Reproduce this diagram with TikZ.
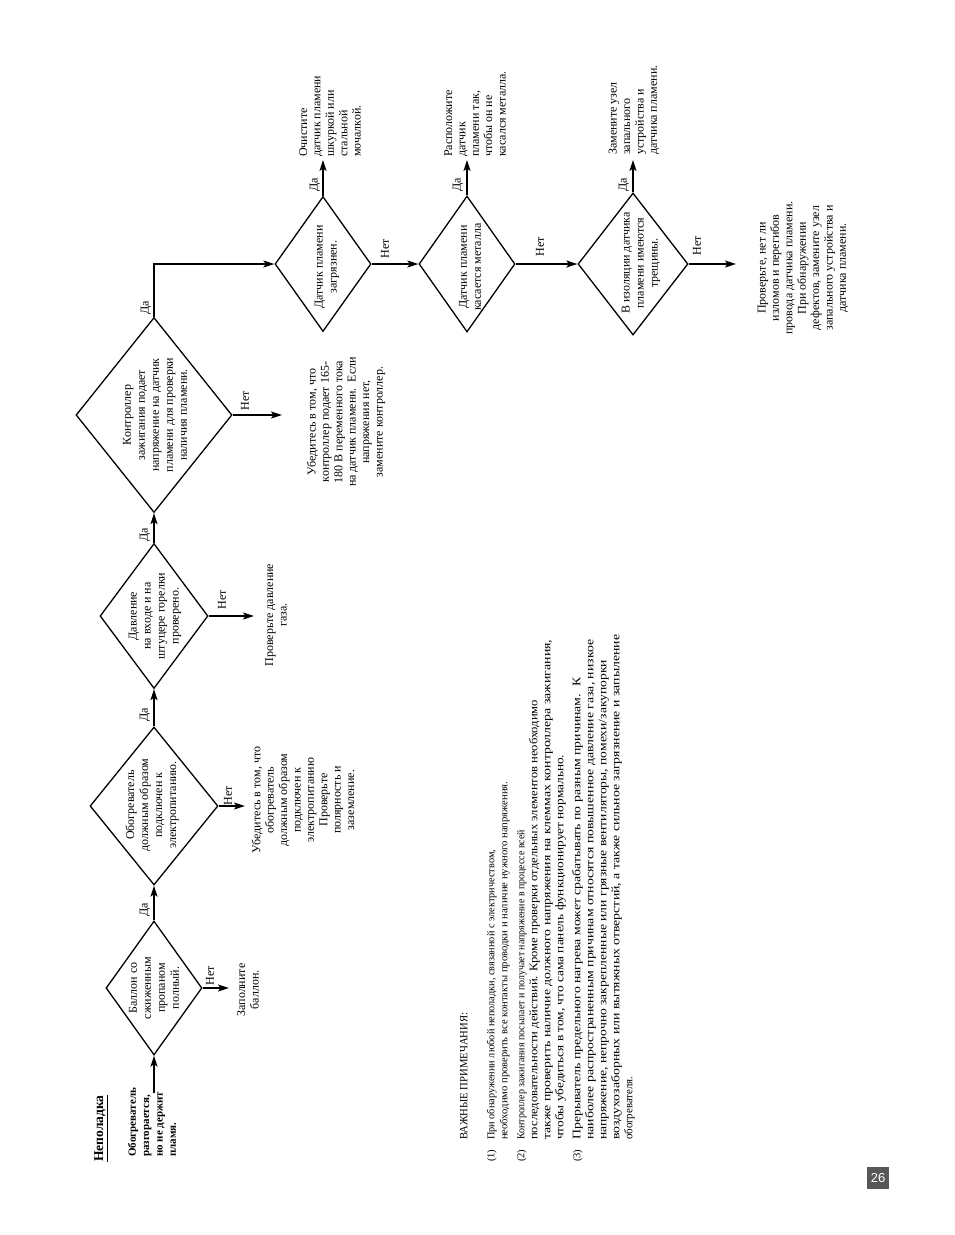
\documentclass[tikz,border=0pt]{standalone}
\usepackage{fontspec}
\usepackage{graphicx}
\setmainfont{Liberation Serif}
\newfontfamily\pagenumfont{Liberation Sans}
\usetikzlibrary{shapes.geometric,arrows.meta}
\definecolor{pggray}{RGB}{88,88,88}
\newcommand{\notesline}[2]{\resizebox{#1pt}{\height}{#2}}
\newcommand{\bignotes}{\fontsize{11.5}{13}\selectfont}
\begin{document}
\begin{tikzpicture}[x=1pt,y=-1pt,
  dia/.style 2 args={diamond, draw, line width=1.3pt, inner sep=0pt, minimum width=#1, minimum height=#2},
  dtxt/.style={rotate=90, align=center, inner sep=0pt, font=\fontsize{12}{14}\selectfont},
  otxt/.style={rotate=90, align=center, inner sep=0pt, font=\fontsize{12}{13.4}\selectfont},
  ltxt/.style={rotate=90, align=left, anchor=west, inner sep=0pt, font=\fontsize{12}{13.4}\selectfont},
  lbl/.style={rotate=90, inner sep=0pt, font=\fontsize{12}{12}\selectfont},
  arr/.style={line width=1.5pt, -{Stealth[length=11pt,width=7pt,inset=2.5pt]}}
]
\useasboundingbox (0,0) rectangle (954,1235);
\fill[white] (0,0) rectangle (954,1235);

% header
\node[rotate=90, anchor=west, inner sep=0pt, font=\fontsize{13.5}{14}\selectfont\bfseries] (h1) at (101,1162) {\underline{Неполадка}};
\node[rotate=90, anchor=west, align=left, inner sep=0pt, font=\fontsize{11}{13.3}\selectfont\bfseries] (h2) at (152,1157) {Обогреватель\\разгорается,\\но не держит\\пламя.};
\coordinate (s0) at (154,1093);

% diamonds
\node[dia={96}{134}] (d1) at (154,988) {};
\node[dia={128}{158}] (d2) at (154,806) {};
\node[dia={108}{145}] (d3) at (154,616) {};
\node[dia={156}{195}] (d4) at (154,415) {};
\node[dia={96}{135}] (d5) at (323,264) {};
\node[dia={96}{136}] (d6) at (467,264) {};
\node[dia={110}{142}] (d7) at (633,264) {};

% diamond texts
\node[dtxt] (t1) at (154,988) {Баллон со\\сжиженным\\пропаном\\полный.};
\node[dtxt] (t2) at (152,805) {Обогреватель\\должным образом\\подключен к\\электропитанию.};
\node[dtxt] (t3) at (155,616) {Давление\\на входе и на\\штуцере горелки\\проверено.};
\node[dtxt] (t4) at (155,415) {Контроллер\\зажигания подает\\напряжение на датчик\\пламени для проверки\\наличия пламени.};
\node[dtxt] (t5) at (327,267) {Датчик пламени\\загрязнен.};
\node[dtxt] (t6) at (470,267) {Датчик пламени\\касается металла};
\node[dtxt] (t7) at (641,263) {В изоляции датчика\\пламени имеются\\трещины.};

% outcomes
\node[otxt] (o1) at (248,990) {Заполните\\баллон.};
\node[otxt] (o2) at (303,800) {Убедитесь в том, что\\обогреватель\\должным образом\\подключен к\\электропитанию\\Проверьте\\полярность и\\заземление.};
\node[otxt] (o3) at (276,615) {Проверьте давление\\газа.};
\node[otxt] (o4) at (346,422) {Убедитесь в том, что\\контроллер подает 165-\\180 В переменного тока\\на датчик пламени.\ \ Если\\напряжения нет,\\замените контроллер.};
\node[ltxt] (o5) at (330,157) {Очистите\\датчик пламени\\шкуркой или\\стальной\\мочалкой.};
\node[ltxt] (o6) at (475,157) {Расположите\\датчик\\пламени так,\\чтобы он не\\касался металла.};
\node[ltxt] (o7) at (634,155) {Замените узел\\запального\\устройства и\\датчика пламени.};
\node[otxt] (o8) at (803,268) {Проверьте, нет ли\\изломов и перегибов\\провода датчика пламени.\\При обнаружении\\дефектов, замените узел\\запального устройства и\\датчика пламени.};

% free ends
\coordinate (n1) at (229,988);
\coordinate (n2) at (245,806);
\coordinate (n3) at (254,616);
\coordinate (n4) at (282,415);
\coordinate (n7) at (736,264);
\coordinate (u5) at (323,160);
\coordinate (u6) at (467,160);
\coordinate (u7) at (633,160);

% connectors
\draw[arr] (s0) -- (d1.south);
\draw[arr] (d1.north) -- (d2.south);
\draw[arr] (d2.north) -- (d3.south);
\draw[arr] (d3.north) -- (d4.south);
\draw[arr] (d4.north) |- (d5.west);
\draw[arr] (d5.east) -- (d6.west);
\draw[arr] (d6.east) -- (d7.west);
\draw[arr] (d1.east) -- (n1);
\draw[arr] (d2.east) -- (n2);
\draw[arr] (d3.east) -- (n3);
\draw[arr] (d4.east) -- (n4);
\draw[arr] (d7.east) -- (n7);
\draw[arr] (d5.north) -- (u5);
\draw[arr] (d6.north) -- (u6);
\draw[arr] (d7.north) -- (u7);

% labels
\node[lbl] (y1) at (145,910) {Да};
\node[lbl] (y2) at (145,715) {Да};
\node[lbl] (y3) at (145,535) {Да};
\node[lbl] (y4) at (146,308) {Да};
\node[lbl] (y5) at (315,185) {Да};
\node[lbl] (y6) at (458,185) {Да};
\node[lbl] (y7) at (624,185) {Да};
\node[lbl] (m1) at (210,976) {Нет};
\node[lbl] (m2) at (228,796) {Нет};
\node[lbl] (m3) at (222,600) {Нет};
\node[lbl] (m4) at (245,401) {Нет};
\node[lbl] (m5) at (385,249) {Нет};
\node[lbl] (m6) at (540,247) {Нет};
\node[lbl] (m7) at (697,246) {Нет};

% notes
\node[rotate=90, anchor=north west, inner sep=0pt, font=\fontsize{10.5}{13}\selectfont] (notes) at (458,1162) {%
\begin{tabular}{@{}p{22pt}@{}l@{}}
 & \notesline{127}{\fontsize{11}{13}\selectfont ВАЖНЫЕ ПРИМЕЧАНИЯ:}\\[14pt]
(1) & \notesline{290}{При обнаружении любой неполадки, связанной с электричеством,}\\
 & \notesline{358}{необходимо проверить все контакты проводки и наличие нужного напряжения.}\\[4pt]
(2) & \notesline{310}{Контроллер зажигания посылает и получает напряжение в процессе всей}\\
 & \notesline{440}{\bignotes последовательности действий. Кроме проверки отдельных элементов необходимо}\\
 & \notesline{500}{\bignotes также проверить наличие должного напряжения на клеммах контроллера зажигания,}\\
 & \notesline{385}{\bignotes чтобы убедиться в том, что сама панель функционирует нормально.}\\[4pt]
(3) & \notesline{462}{\bignotes Прерыватель предельного нагрева может срабатывать по разным причинам.\ \ К}\\
 & \notesline{500}{\bignotes наиболее распространенным причинам относятся повышенное давление газа, низкое}\\
 & \notesline{480}{\bignotes напряжение, непрочно закрепленные или грязные вентиляторы, помехи/закупорки}\\
 & \notesline{505}{\bignotes воздухозаборных или вытяжных отверстий, а также сильное загрязнение и запыление}\\
 & \notesline{63}{\bignotes обогревателя.}
\end{tabular}};

% page number
\node[fill=pggray, text=white, minimum size=22pt, inner sep=0pt, font=\pagenumfont\fontsize{13}{13}\selectfont] (pg) at (878,1178) {26};
\end{tikzpicture}
\end{document}
